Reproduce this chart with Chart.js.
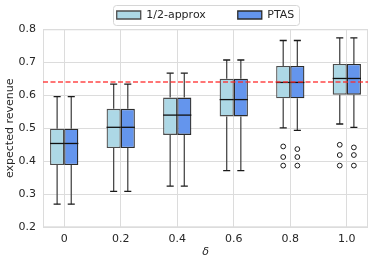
<!DOCTYPE html>
<html>
<head>
<meta charset="utf-8">
<script src="https://cdn.jsdelivr.net/npm/chart.js@4.4.0/dist/chart.umd.min.js"></script>
<style>
html,body{margin:0;padding:0;background:#fff;}
#wrap{width:374px;height:263px;}
</style>
</head>
<body>
<div id="wrap"><canvas id="c" width="374" height="263"></canvas></div>
<script>
// ---- data ----
const deltaLabels = ['0', '0.2', '0.4', '0.6', '0.8', '1.0'];
const seriesNames = ['1/2-approx', 'PTAS'];
// box stats per delta
const approxLow    = [0.270, 0.309, 0.325, 0.372, 0.501, 0.513];
const approxQ1     = [0.389, 0.440, 0.480, 0.536, 0.591, 0.602];
const approxMedian = [0.454, 0.503, 0.540, 0.587, 0.639, 0.651];
const approxQ3     = [0.499, 0.559, 0.593, 0.650, 0.689, 0.695];
const approxHigh   = [0.596, 0.634, 0.667, 0.707, 0.766, 0.774];
const ptasLow      = [0.270, 0.309, 0.325, 0.372, 0.494, 0.503];
const ptasQ1       = [0.389, 0.440, 0.480, 0.536, 0.591, 0.602];
const ptasMedian   = [0.454, 0.503, 0.540, 0.587, 0.639, 0.651];
const ptasQ3       = [0.499, 0.559, 0.593, 0.650, 0.689, 0.695];
const ptasHigh     = [0.596, 0.634, 0.667, 0.707, 0.766, 0.774];
// outliers: [categoryIndex, value]
const approxOutliers = [[4, 0.445], [4, 0.413], [4, 0.387], [5, 0.450], [5, 0.419], [5, 0.387]];
const ptasOutliers   = [[4, 0.437], [4, 0.413], [4, 0.387], [5, 0.442], [5, 0.419], [5, 0.387]];
const referenceValue = 0.64;
const yTicks = [0.2, 0.3, 0.4, 0.5, 0.6, 0.7, 0.8];

// ---- build ----
const FONT = "'DejaVu Sans', sans-serif";
const TXT = '#262626';
const GRID = '#dcdcdc';
const boxOffset = 0.125;
const xMin = -0.375, xMax = deltaLabels.length - 1 + 0.375;

function boxData(q1, q3) {
  return deltaLabels.map((_, i) => ({x: i, y: [q1[i], q3[i]]}));
}
const stats = [
  {low: approxLow, med: approxMedian, high: approxHigh},
  {low: ptasLow, med: ptasMedian, high: ptasHigh}
];

const boxPlugin = {
  id: 'boxWhiskers',
  afterDatasetDraw(chart, args) {
    const ds = chart.data.datasets[args.index];
    if (ds.statIndex === undefined) return;
    const st = stats[ds.statIndex];
    const y = chart.scales.y;
    const ctx = chart.ctx;
    ctx.save();
    args.meta.data.forEach((bar, i) => {
      const cx = bar.x;
      const half = bar.width / 2;
      const yQ1 = y.getPixelForValue(ds.data[i].y[0]);
      const yQ3 = y.getPixelForValue(ds.data[i].y[1]);
      const yLow = y.getPixelForValue(st.low[i]);
      const yHigh = y.getPixelForValue(st.high[i]);
      const yMed = y.getPixelForValue(st.med[i]);
      ctx.lineWidth = 1.3;
      ctx.strokeStyle = '#4a4a4a';
      ctx.beginPath();
      ctx.moveTo(cx, yQ1); ctx.lineTo(cx, yLow);
      ctx.moveTo(cx, yQ3); ctx.lineTo(cx, yHigh);
      ctx.stroke();
      ctx.strokeStyle = '#1a1a1a';
      ctx.beginPath();
      ctx.moveTo(cx - half * 0.5, yLow); ctx.lineTo(cx + half * 0.5, yLow);
      ctx.moveTo(cx - half * 0.5, yHigh); ctx.lineTo(cx + half * 0.5, yHigh);
      ctx.stroke();
      ctx.strokeStyle = '#111';
      ctx.beginPath();
      ctx.moveTo(cx - half, yMed); ctx.lineTo(cx + half, yMed);
      ctx.stroke();
    });
    ctx.restore();
  }
};

const framePlugin = {
  id: 'frameAndLegendBox',
  beforeDatasetsDraw(chart) {
    const a = chart.chartArea, ctx = chart.ctx;
    ctx.save();
    ctx.strokeStyle = GRID;
    ctx.lineWidth = 1;
    ctx.strokeRect(a.left + 0.5, a.top + 0.5, a.right - a.left - 1, a.bottom - a.top - 1);
    ctx.restore();
  },
  beforeDraw(chart) {
    const lg = chart.legend;
    if (!lg || !lg.legendHitBoxes || !lg.legendHitBoxes.length) return;
    const hb = lg.legendHitBoxes;
    const l = Math.min(...hb.map(h => h.left)) - 4;
    const r = Math.max(...hb.map(h => h.left + h.width)) + 4;
    const ctx = chart.ctx;
    ctx.save();
    ctx.strokeStyle = '#d6d6d6';
    ctx.fillStyle = '#fff';
    ctx.lineWidth = 1;
    const t = 5.5, b = 25.5;
    ctx.beginPath();
    ctx.roundRect(Math.round(l) + 0.5, t, Math.round(r - l), b - t, 3);
    ctx.fill();
    ctx.stroke();
    ctx.restore();
  }
};

const datasets = [
  {
    type: 'line',
    label: 'ref',
    data: [{x: xMin, y: referenceValue}, {x: xMax, y: referenceValue}],
    borderColor: 'rgba(255,40,40,0.85)',
    borderWidth: 1.5,
    borderDash: [5, 2.5],
    pointRadius: 0,
    fill: false,
    order: -1
  },
  {
    type: 'bar',
    label: seriesNames[0],
    data: boxData(approxQ1, approxQ3),
    backgroundColor: '#add8e6',
    borderColor: '#4d4d4d',
    borderWidth: 1.3,
    borderSkipped: false,
    statIndex: 0,
    order: 1
  },
  {
    type: 'bar',
    label: seriesNames[1],
    data: boxData(ptasQ1, ptasQ3),
    backgroundColor: '#6495ed',
    borderColor: '#2b2b2b',
    borderWidth: 1.3,
    borderSkipped: false,
    statIndex: 1,
    order: 1
  },
  {
    type: 'scatter',
    label: 'out1',
    data: approxOutliers.map(o => ({x: o[0] - boxOffset, y: o[1]})),
    pointRadius: 2.4,
    pointBackgroundColor: '#fff',
    pointBorderColor: '#1a1a1a',
    pointBorderWidth: 1,
    order: 0
  },
  {
    type: 'scatter',
    label: 'out2',
    data: ptasOutliers.map(o => ({x: o[0] + boxOffset, y: o[1]})),
    pointRadius: 2.4,
    pointBackgroundColor: '#fff',
    pointBorderColor: '#1a1a1a',
    pointBorderWidth: 1,
    order: 0
  }
];

const LEG_PAD = 32;
new Chart(document.getElementById('c'), {
  type: 'bar',
  data: {datasets},
  plugins: [boxPlugin, framePlugin],
  options: {
    responsive: false,
    animation: false,
    events: [],
    categoryPercentage: 0.5,
    barPercentage: 1.0,
    layout: {padding: {top: 9.5 - LEG_PAD, right: 6, bottom: 0, left: 0}},
    plugins: {
      tooltip: {enabled: false},
      legend: {
        position: 'top',
        fullSize: false,
        maxHeight: 29.3 - (9.5 - LEG_PAD),
        labels: {
          filter: (item) => seriesNames.includes(item.text),
          boxWidth: 24,
          boxHeight: 8,
          padding: LEG_PAD,
          color: TXT,
          font: {family: FONT, size: 11}
        }
      }
    },
    scales: {
      x: {
        type: 'linear',
        min: xMin,
        max: xMax,
        offset: false,
        afterBuildTicks: (s) => { s.ticks = deltaLabels.map((_, i) => ({value: i})); },
        afterFit: (s) => { s.height = 35.7; },
        ticks: {
          callback: (v) => deltaLabels[v] !== undefined ? deltaLabels[v] : '',
          color: TXT,
          font: {family: FONT, size: 11},
          padding: 5,
          maxRotation: 0,
          autoSkip: false
        },
        grid: {color: GRID, drawTicks: false, offset: false},
        border: {display: false},
        title: {display: true, text: 'δ', color: TXT, font: {family: FONT, size: 11, style: 'italic'}, padding: {top: 0, bottom: 4.7}}
      },
      y: {
        min: 0.2,
        max: 0.8,
        afterBuildTicks: (s) => { s.ticks = yTicks.map(v => ({value: v})); },
        afterFit: (s) => { s.width = 43; },
        ticks: {
          callback: (v) => v.toFixed(1),
          color: TXT,
          font: {family: FONT, size: 11},
          padding: 7
        },
        grid: {color: GRID, drawTicks: false},
        border: {display: false},
        title: {display: true, text: 'expected revenue', color: TXT, font: {family: FONT, size: 11}, padding: {top: 4, bottom: 0}}
      }
    }
  }
});
</script>
</body>
</html>
